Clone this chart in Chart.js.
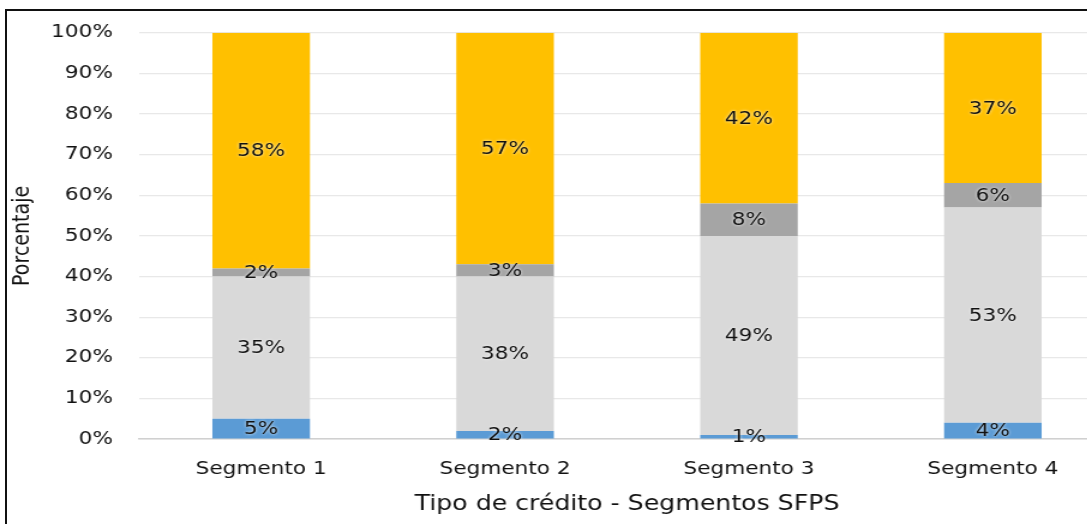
<!DOCTYPE html>
<html>
<head>
<meta charset="utf-8">
<script src="https://cdn.jsdelivr.net/npm/chart.js@4"></script>
<style>
  html, body { margin: 0; padding: 0; background: #fff; overflow: hidden; }
  #frame {
    position: absolute; left: 5px; top: 9px; width: 1200px; height: 600px;
    border-left: 2px solid #111; border-top: 2px solid #111;
  }
  /* the chart is drawn a bit narrower and widened horizontally */
  #wrap {
    position: absolute; left: 0; top: 0; width: 938px; height: 524px;
    transform: scaleX(1.2); transform-origin: 0 0;
  }
</style>
</head>
<body>
<div id="frame"></div>
<div id="wrap"><canvas id="chart"></canvas></div>
<script>
// Distribución por tipo de crédito (%)
const segmentos = ['Segmento 1', 'Segmento 2', 'Segmento 3', 'Segmento 4'];
const serieAzul = [5, 2, 1, 4];
const serieGrisClaro = [35, 38, 49, 53];
const serieGrisOscuro = [2, 3, 8, 6];
const serieAmarilla = [58, 57, 42, 37];
const ticksY = [0, 10, 20, 30, 40, 50, 60, 70, 80, 90, 100];

const fuente = '"DejaVu Sans", Verdana, sans-serif';

// etiquetas de valor centradas en cada tramo
const etiquetas = {
    id: 'etiquetas',
    afterDatasetsDraw(chart) {
        const ctx = chart.ctx;
        ctx.save();
        ctx.font = '18px ' + fuente;
        ctx.textAlign = 'center';
        ctx.textBaseline = 'middle';
        ctx.shadowColor = 'rgba(255,255,255,0.9)';
        ctx.shadowBlur = 3;
        ctx.fillStyle = '#111';
        chart.data.datasets.forEach((ds, i) => {
            chart.getDatasetMeta(i).data.forEach((bar, j) => {
                const yMid = (bar.y + bar.base) / 2;
                ctx.fillText(ds.data[j] + '%', bar.x, yMid + 1);
            });
        });
        ctx.restore();
    }
};

new Chart(document.getElementById('chart'), {
    type: 'bar',
    data: {
        labels: segmentos,
        datasets: [
            { label: 'Azul', data: serieAzul, backgroundColor: '#5b9bd5' },
            { label: 'Gris claro', data: serieGrisClaro, backgroundColor: '#d9d9d9' },
            { label: 'Gris oscuro', data: serieGrisOscuro, backgroundColor: '#a5a5a5' },
            { label: 'Amarilla', data: serieAmarilla, backgroundColor: '#ffc000' }
        ]
    },
    options: {
        responsive: true,
        maintainAspectRatio: false,
        animation: false,
        layout: { padding: { left: 8, top: 15, right: 9, bottom: 6 } },
        datasets: { bar: { barPercentage: 0.4, categoryPercentage: 1 } },
        plugins: { legend: { display: false }, tooltip: { enabled: false } },
        scales: {
            x: {
                stacked: true,
                grid: { display: false },
                border: { color: '#d0d0d0', width: 1.5 },
                ticks: { color: '#111', font: { family: fuente, size: 18 }, padding: 12 },
                title: {
                    display: true,
                    text: 'Tipo de crédito - Segmentos SFPS',
                    color: '#111',
                    font: { family: fuente, size: 21 },
                    padding: { top: 0, bottom: 1 }
                },
                afterFit(scale) { scale.height = 79; }
            },
            y: {
                stacked: true,
                min: 0,
                max: 100,
                afterBuildTicks(scale) {
                    scale.ticks = ticksY.map(v => ({ value: v }));
                },
                grid: { color: '#e8e8e8', lineWidth: 1.2, drawTicks: false },
                border: { display: false },
                ticks: {
                    color: '#111',
                    font: { family: fuente, size: 18 },
                    padding: 22,
                    callback: v => v + '%'
                },
                title: {
                    display: true,
                    text: 'Porcentaje',
                    color: '#111',
                    font: { family: fuente, size: 19 },
                    padding: { top: 0, bottom: 0 }
                },
                afterFit(scale) { scale.width = 108; }
            }
        }
    },
    plugins: [etiquetas]
});
</script>
</body>
</html>
